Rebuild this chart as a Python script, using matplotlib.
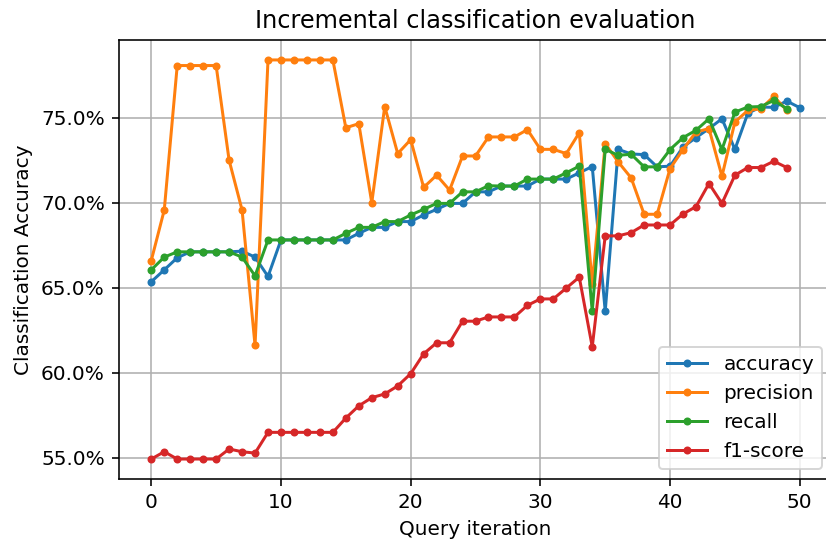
import numpy as np
import matplotlib
matplotlib.use("Agg")
import matplotlib.pyplot as plt
from matplotlib.ticker import FuncFormatter

# Scores per query iteration (fractions)
accuracy = [0.6535, 0.6605, 0.6676, 0.6711, 0.6711, 0.6711, 0.6711, 0.6715, 0.6680, 0.6566,
            0.6781, 0.6781, 0.6781, 0.6781, 0.6781, 0.6781, 0.6820, 0.6855, 0.6855, 0.6889,
            0.6889, 0.6928, 0.6961, 0.6996, 0.6996, 0.7064, 0.7064, 0.7098, 0.7098, 0.7098,
            0.7139, 0.7139, 0.7139, 0.7176, 0.7213, 0.6361, 0.7314, 0.7287, 0.7283, 0.7211,
            0.7215, 0.7328, 0.7383, 0.7436, 0.7494, 0.7314, 0.7527, 0.7563, 0.7561, 0.7598,
            0.7559]
precision = [0.6660, 0.6957, 0.7807, 0.7807, 0.7807, 0.7807, 0.7250, 0.6957, 0.6160, 0.7840,
             0.7840, 0.7840, 0.7840, 0.7840, 0.7840, 0.7441, 0.7465, 0.7000, 0.7566, 0.7289,
             0.7371, 0.7090, 0.7162, 0.7074, 0.7275, 0.7275, 0.7387, 0.7387, 0.7387, 0.7430,
             0.7314, 0.7314, 0.7289, 0.7412, 0.6520, 0.7348, 0.7240, 0.7146, 0.6932, 0.6932,
             0.7201, 0.7313, 0.7416, 0.7436, 0.7156, 0.7475, 0.7543, 0.7553, 0.7625, 0.7543]
recall = [0.6605, 0.6680, 0.6711, 0.6711, 0.6711, 0.6711, 0.6711, 0.6680, 0.6570, 0.6781,
          0.6781, 0.6781, 0.6781, 0.6781, 0.6781, 0.6820, 0.6855, 0.6855, 0.6889, 0.6889,
          0.6928, 0.6961, 0.6996, 0.6996, 0.7064, 0.7064, 0.7100, 0.7098, 0.7098, 0.7139,
          0.7139, 0.7139, 0.7176, 0.7215, 0.6361, 0.7314, 0.7279, 0.7285, 0.7211, 0.7211,
          0.7313, 0.7383, 0.7426, 0.7494, 0.7313, 0.7533, 0.7563, 0.7566, 0.7602, 0.7553]
f1_score = [0.5492, 0.5535, 0.5492, 0.5492, 0.5492, 0.5492, 0.5551, 0.5535, 0.5527, 0.5649,
            0.5649, 0.5649, 0.5649, 0.5649, 0.5649, 0.5733, 0.5805, 0.5853, 0.5875, 0.5922,
            0.5994, 0.6111, 0.6176, 0.6176, 0.6303, 0.6303, 0.6328, 0.6328, 0.6328, 0.6396,
            0.6434, 0.6434, 0.6498, 0.6562, 0.6152, 0.6805, 0.6805, 0.6824, 0.6869, 0.6869,
            0.6869, 0.6934, 0.6977, 0.7113, 0.6996, 0.7162, 0.7207, 0.7207, 0.7244, 0.7207]

series = [("accuracy", accuracy), ("precision", precision),
          ("recall", recall), ("f1-score", f1_score)]

DPI = 144
fig = plt.figure(figsize=(826 / DPI, 544 / DPI), dpi=DPI)
ax = fig.add_axes([0.1439, 0.1195, 0.8636, 0.807])

for name, values in series:
    ax.plot(np.arange(len(values)), values, ".-", label=name)

ax.yaxis.set_major_formatter(FuncFormatter(lambda v, _: f"{v:.1%}"))
ax.set_xticks([0, 10, 20, 30, 40, 50])
ax.set_yticks([0.55, 0.60, 0.65, 0.70, 0.75])
ax.grid(True)
ax.set_title("Incremental classification evaluation")
ax.set_xlabel("Query iteration")
ax.set_ylabel("Classification Accuracy")
ax.legend(loc="lower right")

fig.savefig("out.png", dpi=DPI)
